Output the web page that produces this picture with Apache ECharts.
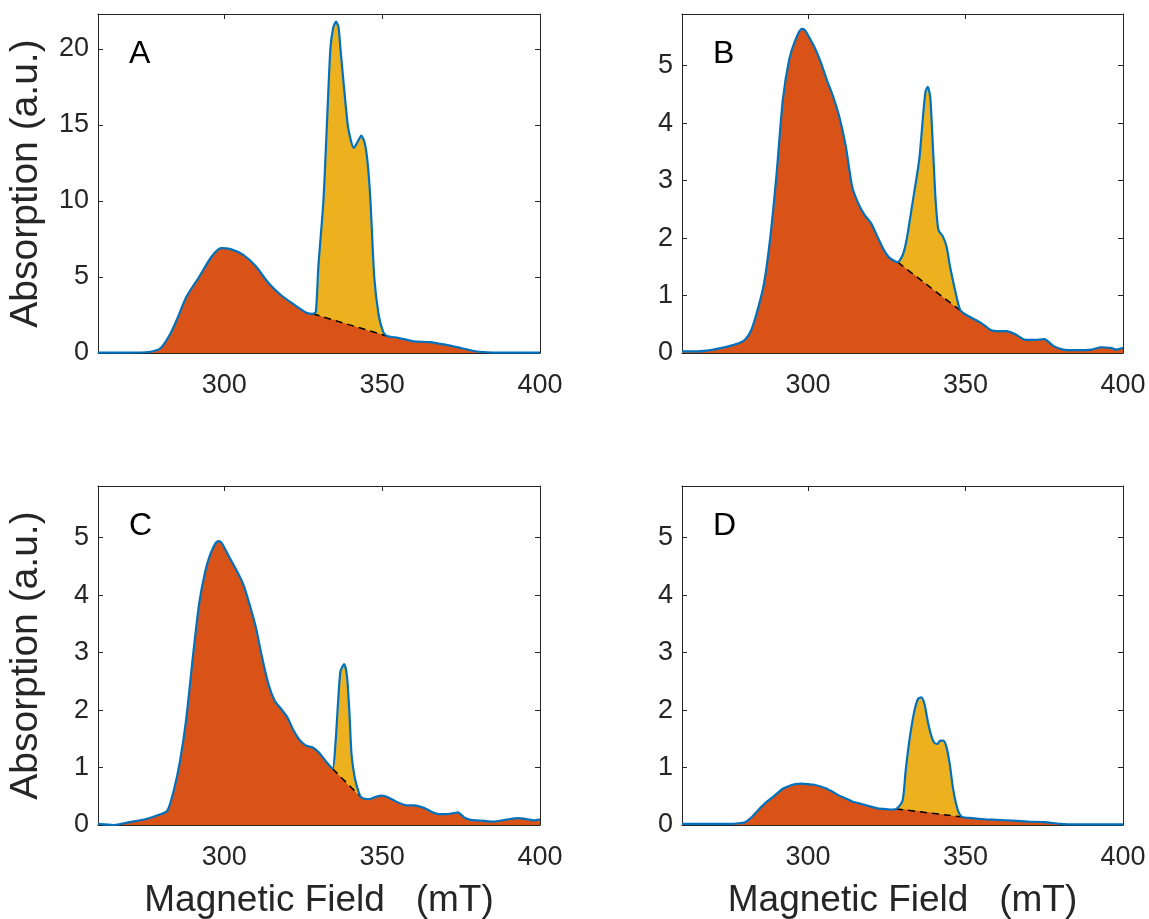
<!DOCTYPE html>
<html>
<head>
<meta charset="utf-8">
<script src="https://cdn.jsdelivr.net/npm/echarts@6/dist/echarts.min.js"></script>
<style>
html,body{margin:0;padding:0;background:#fff;}
#chart{width:1149px;height:919px;}
</style>
</head>
<body>
<div id="chart"></div>
<script>
// ---------- data ----------
const X_MIN = 260, X_MAX = 400;
const xTicks = [300, 350, 400];

// Panel A
const fieldA = [260,265,270,275,278,280,283,285,288,292,296,299,302,306,310,314,318,322,326,328,329,329.8,331.4,332.5,333.6,334.5,335.4,336.2,336.8,339.1,340.2,341,342,343.4,344.5,345.4,346.3,347.5,348.9,350.3,351.5,355,360,365,370,375,380,385,390,395,400];
const absA   = [0.02,0.02,0.03,0.05,0.15,0.35,1.3,2.2,3.7,5.0,6.35,6.9,6.83,6.45,5.7,4.6,3.8,3.2,2.65,2.58,2.7,5.7,10,15,20,21.4,21.8,21.4,20,15,13.9,13.5,13.8,14.3,13.8,12.5,10,5,2.5,1.4,1.12,1.0,0.77,0.72,0.55,0.33,0.1,0.03,0.02,0.02,0.02];
const baseA  = [[328, 2.58], [351.5, 1.12]];
const yTicksA = [0, 5, 10, 15, 20];

// Panel B
const fieldB = [260,265,270,275,278,280,282,284,286,288,290,292,294,296,298,299,300,302,304,306,308,310,312,314,316,318,320,322,324,326,328.5,330.1,331.3,333,335.3,336.5,337.3,338,338.8,339.6,340.5,341.4,342.8,344,345.1,346.9,348.3,350,352,355,358,360,363,366,369,372,375,378,381,385,390,393,396,398,400];
const absB   = [0.03,0.03,0.06,0.12,0.17,0.23,0.4,0.75,1.2,2.0,3.1,4.4,5.1,5.45,5.64,5.62,5.53,5.33,5.07,4.75,4.46,4.1,3.6,2.9,2.6,2.4,2.26,2.03,1.8,1.65,1.58,1.71,1.97,2.55,3.36,4.11,4.55,4.63,4.46,3.65,2.67,2.14,2.03,1.85,1.5,1.04,0.75,0.67,0.61,0.52,0.4,0.38,0.38,0.32,0.23,0.23,0.24,0.12,0.06,0.05,0.06,0.1,0.09,0.06,0.09];
const baseB  = [[328.5, 1.58], [350, 0.67]];
const yTicksB = [0, 1, 2, 3, 4, 5];

// Panel C
const fieldC = [260,265,270,275,280,282,284,286,288,290,292,294,296,298,299,300,302,304,306,308,310,312,314,316,318,320,322,324,326,328,330,332,334.3,335.2,336,336.8,338,338.9,339.6,340.3,341.3,342.4,343.4,346,348,350,352,354,356,358,360,362,364,366,368,370,372,374,376,378,380,385,390,393,396,398,400];
const absC   = [0.02,0,0.05,0.1,0.19,0.25,0.6,1.12,1.87,2.9,3.84,4.42,4.77,4.94,4.92,4.83,4.62,4.42,4.19,3.84,3.44,2.91,2.45,2.16,2.02,1.87,1.64,1.47,1.38,1.35,1.26,1.12,0.98,1.41,2.1,2.68,2.8,2.57,1.99,1.23,0.83,0.6,0.48,0.45,0.49,0.51,0.48,0.42,0.37,0.34,0.34,0.32,0.28,0.22,0.19,0.19,0.2,0.22,0.13,0.09,0.08,0.06,0.1,0.12,0.1,0.08,0.1];
const baseC  = [[334.3, 0.98], [343.4, 0.48]];
const yTicksC = [0, 1, 2, 3, 4, 5];

// Panel D
const fieldD = [260,265,270,275,278,280,282,284,286,288,290,292,294,296,298,300,302,304,306,308,310,312,314,316,318,320,322,324,326,328,330,331,332,333,334,335,336,337,338,339,340,341,342,343,344,345,346,347,348,349,352,356,360,365,370,375,380,385,390,395,400];
const absD   = [0.02,0.02,0.02,0.02,0.03,0.05,0.13,0.25,0.36,0.45,0.54,0.63,0.68,0.71,0.72,0.71,0.7,0.67,0.63,0.57,0.51,0.46,0.41,0.38,0.35,0.32,0.29,0.28,0.27,0.28,0.42,0.94,1.4,1.76,2.04,2.2,2.22,2.1,1.81,1.58,1.44,1.41,1.47,1.47,1.35,1.06,0.65,0.37,0.2,0.14,0.12,0.1,0.09,0.075,0.06,0.05,0.02,0.01,0.01,0.01,0.01];
const baseD  = [[328, 0.28], [349, 0.14]];
const yTicksD = [0, 1, 2, 3, 4, 5];

const letters = ['A', 'B', 'C', 'D'];
const yMaxes = [22.3, 5.9, 5.9, 5.9];

// ---------- layout ----------
const panels = [
  {field: fieldA, abs: absA, base: baseA, yTicks: yTicksA, grid: {left: 98,  top: 14,  width: 442, height: 339}, yName: true,  xName: false},
  {field: fieldB, abs: absB, base: baseB, yTicks: yTicksB, grid: {left: 682, top: 14,  width: 441, height: 339}, yName: false, xName: false},
  {field: fieldC, abs: absC, base: baseC, yTicks: yTicksC, grid: {left: 98,  top: 486, width: 442, height: 339}, yName: true,  xName: true},
  {field: fieldD, abs: absD, base: baseD, yTicks: yTicksD, grid: {left: 682, top: 486, width: 441, height: 339}, yName: false, xName: true}
];

const AX = '#262626';
const FONT = "'Liberation Sans', Arial, Helvetica, sans-serif";
const SMOOTH = 0.22;
const grids = [], xAxes = [], yAxes = [], series = [], graphics = [];

panels.forEach((p, i) => {
  grids.push(Object.assign({containLabel: false, outerBoundsMode: 'none'}, p.grid));
  const common = {
    type: 'value', gridIndex: i, splitLine: {show: false},
    axisLine: {show: true, onZero: false, lineStyle: {color: AX, width: 1}}
  };
  xAxes.push(Object.assign({}, common, {
    position: 'bottom', min: X_MIN, max: X_MAX,
    axisTick: {show: true, inside: true, length: 5, customValues: xTicks, lineStyle: {color: AX}},
    axisLabel: {show: true, customValues: xTicks, fontSize: 27, color: AX, margin: 19, fontFamily: FONT},
    name: p.xName ? 'Magnetic Field   (mT)' : '',
    nameLocation: 'middle', nameGap: 57,
    nameTextStyle: {fontSize: 37, color: AX, fontFamily: FONT}
  }));
  xAxes.push(Object.assign({}, common, {
    position: 'top', min: X_MIN, max: X_MAX,
    axisTick: {show: true, inside: true, length: 5, customValues: xTicks, lineStyle: {color: AX}},
    axisLabel: {show: false}
  }));
  yAxes.push(Object.assign({}, common, {
    position: 'left', min: 0, max: yMaxes[i],
    axisTick: {show: true, inside: true, length: 5, customValues: p.yTicks, lineStyle: {color: AX}},
    axisLabel: {show: true, customValues: p.yTicks, fontSize: 27, color: AX, margin: 9, fontFamily: FONT},
    name: p.yName ? 'Absorption (a.u.)' : '',
    nameLocation: 'middle', nameGap: 52, nameRotate: 90,
    nameTextStyle: {fontSize: 39, color: AX, fontFamily: FONT}
  }));
  yAxes.push(Object.assign({}, common, {
    position: 'right', min: 0, max: yMaxes[i],
    axisTick: {show: true, inside: true, length: 5, customValues: p.yTicks, lineStyle: {color: AX}},
    axisLabel: {show: false}
  }));

  const total = p.field.map((x, k) => [x, p.abs[k]]);
  const x0 = p.base[0][0], x1 = p.base[1][0];
  const broad = total.filter(d => d[0] <= x0 || d[0] >= x1);
  const xi = 2 * i, yi = 2 * i;

  series.push({
    type: 'line', xAxisIndex: xi, yAxisIndex: yi, data: total, showSymbol: false, silent: true,
    smooth: SMOOTH,
    lineStyle: {width: 0}, areaStyle: {color: '#EDB120', opacity: 1}, z: 2
  });
  series.push({
    type: 'line', xAxisIndex: xi, yAxisIndex: yi, data: broad, showSymbol: false, silent: true,
    smooth: SMOOTH,
    lineStyle: {width: 0}, areaStyle: {color: '#D95319', opacity: 1}, z: 3
  });
  series.push({
    type: 'line', xAxisIndex: xi, yAxisIndex: yi, data: p.base, showSymbol: false, silent: true,
    lineStyle: {color: '#000', width: 1.5, type: [7, 5]}, z: 4
  });
  series.push({
    type: 'line', xAxisIndex: xi, yAxisIndex: yi, data: total, showSymbol: false, silent: true,
    smooth: SMOOTH,
    lineStyle: {color: '#0072BD', width: 2.2}, z: 5
  });

  graphics.push({
    type: 'text', left: p.grid.left + 31, top: p.grid.top + 24,
    style: {text: letters[i], fontSize: 32, fill: '#000', fontFamily: FONT}
  });
});

const chart = echarts.init(document.getElementById('chart'), null, {renderer: 'canvas'});
chart.setOption({
  animation: false,
  backgroundColor: '#fff',
  grid: grids,
  xAxis: xAxes,
  yAxis: yAxes,
  series: series,
  graphic: graphics
});
</script>
</body>
</html>
